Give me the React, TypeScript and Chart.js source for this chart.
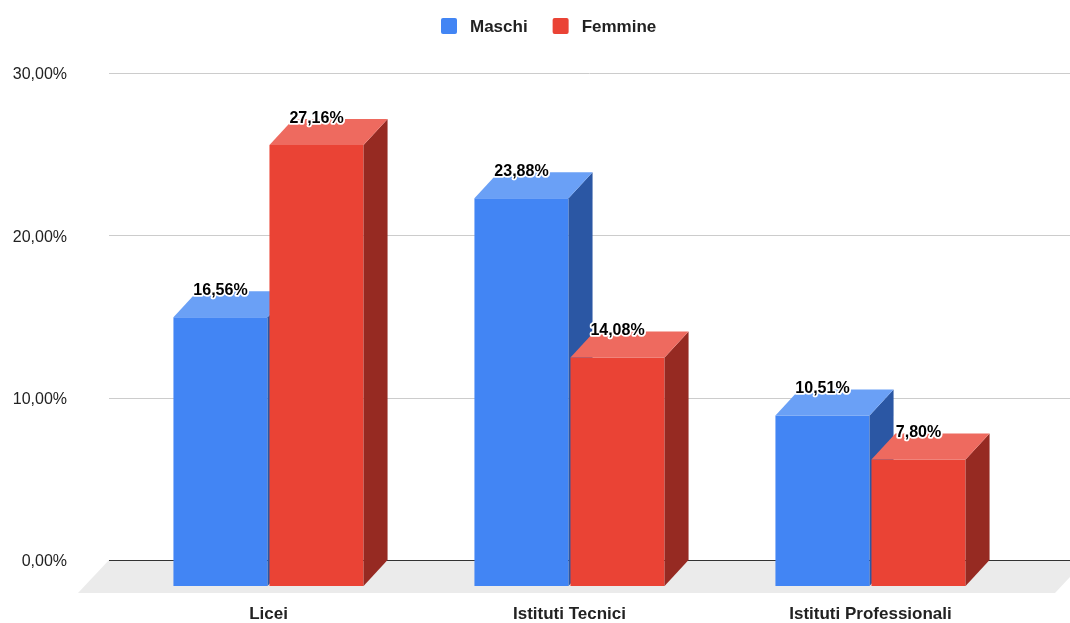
import React, { useEffect, useRef } from 'react';
import { Chart, registerables } from 'chart.js';

Chart.register(...registerables);

const categories = ['Licei', 'Istituti Tecnici', 'Istituti Professionali'];
const maschi = [16.56, 23.88, 10.51];
const femmine = [27.16, 14.08, 7.8];
const seriesNames = ['Maschi', 'Femmine'];
const yMin = 0;
const yMax = 30;
const yStep = 10;

const FONT = '"Liberation Sans", Arial, sans-serif';
const COLORS = [
  { front: '#4285f4', top: '#6aa0f6', side: '#2b57a4' },
  { front: '#ea4335', top: '#ee6a5f', side: '#962a22' },
];
const DX = 24;
const DY = 26;

const fmt = (v: number) => v.toFixed(2).replace('.', ',') + '%';

const threeD = {
  id: 'threeD',
  beforeDatasetsDraw(chart: any) {
    const { ctx, chartArea } = chart;
    const y = chart.scales.y;
    const W = chart.width;
    const y0 = Math.round(y.getPixelForValue(0));
    ctx.save();
    ctx.fillStyle = '#ebebeb';
    ctx.beginPath();
    ctx.moveTo(chartArea.left - 9, y0);
    ctx.lineTo(W + 16, y0);
    ctx.lineTo(W - 15, y0 + 33);
    ctx.lineTo(chartArea.left - 40, y0 + 33);
    ctx.closePath();
    ctx.fill();
    y.ticks.forEach((t: any) => {
      const py = Math.round(y.getPixelForValue(t.value)) + 0.5;
      ctx.strokeStyle = t.value === 0 ? '#333333' : '#cccccc';
      ctx.lineWidth = 1;
      ctx.beginPath();
      ctx.moveTo(chartArea.left - 9, py);
      ctx.lineTo(W, py);
      ctx.stroke();
    });
    ctx.restore();
  },
  beforeDatasetDraw() {
    // bars are drawn in afterDatasetsDraw, in series order, with their 3D faces
    return false;
  },
  afterDatasetsDraw(chart: any) {
    const ctx = chart.ctx;
    chart.data.datasets.forEach((ds: any, i: number) => {
      const meta = chart.getDatasetMeta(i);
      const c = COLORS[i];
      meta.data.forEach((bar: any) => {
        ctx.save();
        ctx.translate(0, DY);
        bar.draw(ctx);
        const { x, y, base, width } = bar.getProps(['x', 'y', 'base', 'width'], true);
        const l = x - width / 2;
        const r = x + width / 2;
        ctx.fillStyle = c.side;
        ctx.beginPath();
        ctx.moveTo(r, y);
        ctx.lineTo(r + DX, y - DY);
        ctx.lineTo(r + DX, base - DY);
        ctx.lineTo(r, base);
        ctx.closePath();
        ctx.fill();
        ctx.fillStyle = c.top;
        ctx.beginPath();
        ctx.moveTo(l, y);
        ctx.lineTo(l + DX, y - DY);
        ctx.lineTo(r + DX, y - DY);
        ctx.lineTo(r, y);
        ctx.closePath();
        ctx.fill();
        ctx.restore();
      });
    });

    ctx.save();
    ctx.font = `bold 16px ${FONT}`;
    ctx.textAlign = 'center';
    ctx.textBaseline = 'alphabetic';
    ctx.lineJoin = 'round';
    chart.data.datasets.forEach((ds: any, i: number) => {
      const meta = chart.getDatasetMeta(i);
      meta.data.forEach((bar: any, j: number) => {
        const { x, y } = bar.getProps(['x', 'y'], true);
        const txt = fmt(ds.data[j]);
        const ty = y + DY - 22.5;
        ctx.strokeStyle = '#ffffff';
        ctx.lineWidth = 3.5;
        ctx.strokeText(txt, x, ty);
        ctx.fillStyle = '#000000';
        ctx.fillText(txt, x, ty);
      });
    });
    ctx.font = `bold 17px ${FONT}`;
    ctx.textAlign = 'left';
    ctx.textBaseline = 'middle';
    let lx = 441;
    const ly = 18;
    chart.data.datasets.forEach((ds: any, i: number) => {
      ctx.fillStyle = COLORS[i].front;
      ctx.beginPath();
      (ctx as any).roundRect(lx, ly, 16, 16, 2);
      ctx.fill();
      ctx.fillStyle = '#222222';
      ctx.fillText(ds.label, lx + 29, ly + 9);
      lx += 29 + ctx.measureText(ds.label).width + 25;
    });
    ctx.restore();
  },
};

export default function App() {
  const ref = useRef<HTMLCanvasElement | null>(null);
  useEffect(() => {
    if (!ref.current) return;
    const chart = new Chart(ref.current, {
      type: 'bar',
      data: {
        labels: categories,
        datasets: [
          {
            label: seriesNames[0],
            data: maschi,
            backgroundColor: COLORS[0].front,
            borderWidth: 0,
            categoryPercentage: 0.638,
            barPercentage: 0.98,
          },
          {
            label: seriesNames[1],
            data: femmine,
            backgroundColor: COLORS[1].front,
            borderWidth: 0,
            categoryPercentage: 0.638,
            barPercentage: 0.98,
          },
        ],
      },
      options: {
        animation: false,
        responsive: false,
        devicePixelRatio: 1,
        events: [],
        layout: { padding: { top: 73, right: 49, bottom: 0, left: 0 } },
        plugins: {
          legend: { display: false },
          tooltip: { enabled: false },
        },
        scales: {
          x: {
            grid: { display: false, drawTicks: false },
            border: { display: false },
            ticks: {
              font: { family: FONT, size: 17, weight: 'bold' },
              color: '#222222',
              padding: 44,
            },
            afterFit(s: any) {
              s.height = 63;
            },
          },
          y: {
            min: yMin,
            max: yMax,
            grid: { display: false, drawTicks: false },
            border: { display: false },
            ticks: {
              stepSize: yStep,
              font: { family: FONT, size: 16 },
              color: '#222222',
              padding: 51,
              labelOffset: 2,
              callback: (v: any) => fmt(Number(v)),
            },
            afterFit(s: any) {
              s.width = 118;
            },
          },
        },
      },
      plugins: [threeD],
    });
    return () => chart.destroy();
  }, []);
  return (
    <div style={{ position: 'fixed', left: 0, top: 0, width: 1070, height: 623, background: '#fff' }}>
      <canvas ref={ref} width={1070} height={623} style={{ display: 'block' }} />
    </div>
  );
}
